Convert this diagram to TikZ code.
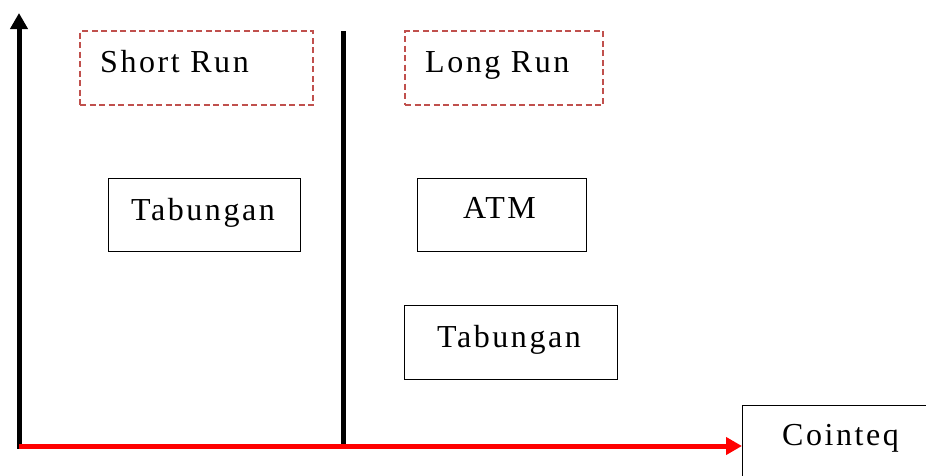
\documentclass[tikz,border=0pt]{standalone}
\usepackage{fontspec}
\setmainfont{Liberation Serif}[LetterSpace=8]
\usetikzlibrary{arrows.meta}
\definecolor{dashred}{RGB}{192,80,77}
\begin{document}
\begin{tikzpicture}[x=1pt,y=-1pt,
  boxbase/.style={draw, rectangle, inner sep=0pt, anchor=north west},
  solidbox/.style={boxbase, line width=1.4pt},
  dashbox/.style={boxbase, draw=dashred, line width=2.2pt, dash pattern=on 6pt off 3.5pt},
  lbl/.style={anchor=base west, inner sep=0pt, font=\fontsize{32}{38}\selectfont},
  axis/.style={line width=5pt},
  tip/.style={-{Triangle[length=16pt,width=17pt]}}
]
\clip (0,0) rectangle (926,475);
\useasboundingbox (0,0) rectangle (926,475);

% axis points
\coordinate (O) at (19,446);
\coordinate (Ytop) at (19,13);
\coordinate (Mtop) at (343,31);
\coordinate (Mbot) at (343,446);

% boxes
\node[dashbox, minimum width=233pt, minimum height=74pt] (srbox) at (79,30) {};
\node[dashbox, minimum width=198pt, minimum height=74pt] (lrbox) at (404,30) {};
\node[solidbox, minimum width=192pt, minimum height=73pt] (tab1) at (108,178) {};
\node[solidbox, minimum width=169pt, minimum height=73pt] (atm) at (417,178) {};
\node[solidbox, minimum width=213pt, minimum height=74pt] (tab2) at (404,305) {};
\node[solidbox, minimum width=200pt, minimum height=100pt] (coint) at (742,405) {};

% labels
\node[lbl] (srtxt) at (100,72) {Short Run};
\node[lbl] (lrtxt) at (425,72) {Long Run};
\node[lbl] (tab1txt) at (131,220) {Tabungan};
\node[lbl] (atmtxt) at (463,218) {ATM};
\node[lbl] (tab2txt) at (437,347) {Tabungan};
\node[lbl] (cointxt) at (782,445) {Cointeq};

% axes
\draw[axis, tip] (O) ++(0,2.5) -- (Ytop);
\draw[axis] (Mtop) -- (Mbot);
\draw[axis, red, tip] (O) -- (O -| coint.west);
\end{tikzpicture}
\end{document}
